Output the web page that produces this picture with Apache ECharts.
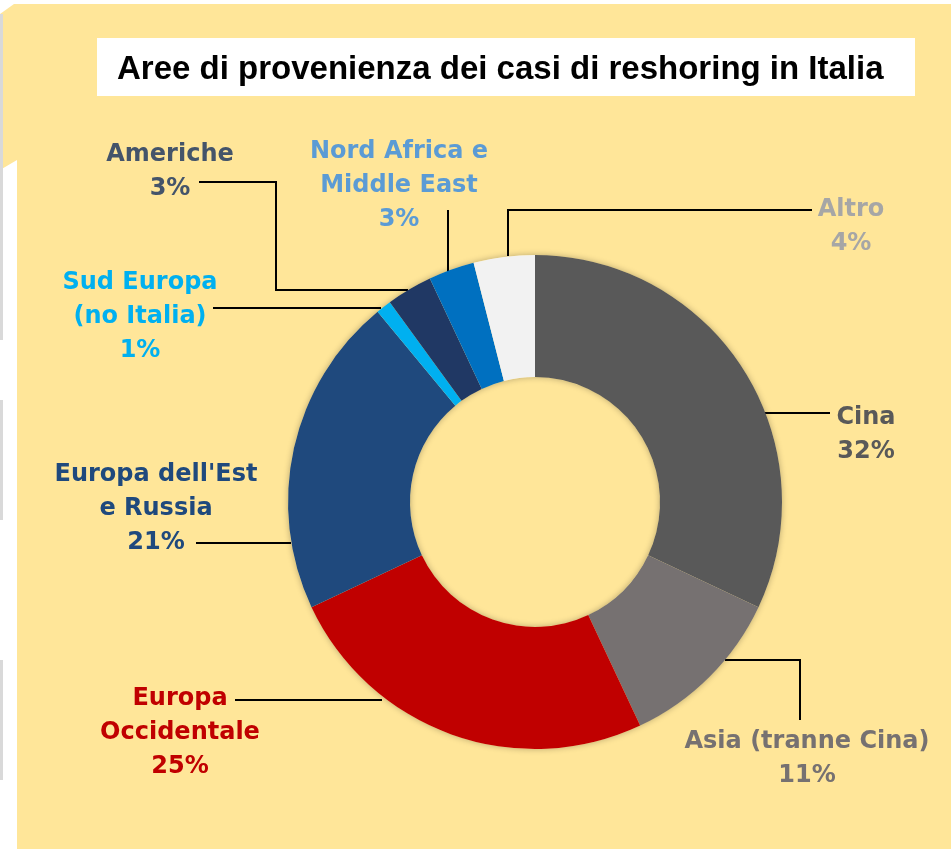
<!DOCTYPE html>
<html>
<head>
<meta charset="utf-8">
<script src="https://cdn.jsdelivr.net/npm/echarts@6/dist/echarts.min.js"></script>
<style>
  html, body { margin: 0; padding: 0; background: #ffffff; }
  #chart { width: 951px; height: 849px; }
</style>
</head>
<body>
<div id="chart"></div>
<script>
// dati (percentuali), in senso orario dalle ore 12
const categories = ['Cina', 'Asia (tranne Cina)', 'Europa\nOccidentale', "Europa dell'Est\ne Russia",
  'Sud Europa\n(no Italia)', 'Americhe', 'Nord Africa e\nMiddle East', 'Altro'];
const values = [32, 11, 25, 21, 1, 3, 3, 4];
const sliceColors = ['#595959', '#767171', '#C00000', '#1F497D', '#00B0F0', '#203864', '#0070C0', '#F2F2F2'];
const labelColors = ['#595959', '#767171', '#C00000', '#1F497D', '#00B0F0', '#44546A', '#5B9BD5', '#A6A6A6'];

// posizione etichette e linee guida
const labelPos = [[866, 435], [807, 759], [180, 733], [156, 509], [140, 317], [170, 172], [399, 186], [851, 227]];
const guideLines = [
  [[762, 413], [796, 413], [830, 413]],
  [[725, 660], [800, 660], [800, 720]],
  [[382, 700], [310, 700], [235, 700]],
  [[291, 543], [240, 543], [196, 543]],
  [[381, 308], [300, 308], [213, 308]],
  [[408, 290], [276, 290], [276, 182], [199, 182]],
  [[448, 272], [448, 240], [448, 210]],
  [[508, 256], [508, 210], [812, 210]]
];

const FONT = '"DejaVu Sans", sans-serif';

let myChart = echarts.init(document.getElementById('chart'));

const option = {
  backgroundColor: '#ffffff',
  animation: false,
  title: {
    text: 'Aree di provenienza dei casi di reshoring in Italia',
    left: 117,
    top: 53,
    padding: 0,
    textStyle: { color: '#000', fontSize: 33, fontWeight: 'bold', fontFamily: '"Liberation Sans", Arial, sans-serif' }
  },
  graphic: [
    // sfondo giallo
    { type: 'rect', shape: { x: 17, y: 4, width: 934, height: 845 }, style: { fill: '#FFE699' } },
    { type: 'polygon', shape: { points: [[0, 14], [14, 4], [17, 4], [17, 160], [0, 170]] }, style: { fill: '#FFE699' } },
    { type: 'rect', shape: { x: 0, y: 14, width: 3, height: 326 }, style: { fill: '#d9d9d9' } },
    { type: 'rect', shape: { x: 0, y: 400, width: 3, height: 120 }, style: { fill: '#d9d9d9' } },
    { type: 'rect', shape: { x: 0, y: 660, width: 3, height: 120 }, style: { fill: '#d9d9d9' } },
    // riquadro titolo
    { type: 'rect', shape: { x: 97, y: 38, width: 818, height: 58 }, style: { fill: '#ffffff' } }
  ],
  series: [
    {
      // ombra dietro la ciambella
      type: 'pie',
      silent: true,
      center: [535, 502],
      radius: [125, 247],
      z: 1,
      label: { show: false },
      labelLine: { show: false },
      itemStyle: { color: '#FFE699', shadowBlur: 6, shadowColor: 'rgba(0,0,0,0.28)' },
      data: [{ value: 1, name: '' }]
    },
    {
      type: 'pie',
      center: [535, 502],
      radius: [125, 247],
      startAngle: 90,
      clockwise: true,
      z: 2,
      avoidLabelOverlap: false,
      data: categories.map((c, i) => ({
        name: c,
        value: values[i],
        itemStyle: { color: sliceColors[i] },
        label: { color: labelColors[i] }
      })),
      label: {
        show: true,
        formatter: p => p.name + '\n' + p.value + '%',
        fontFamily: FONT,
        fontSize: 24,
        fontWeight: 'bold',
        lineHeight: 34,
        align: 'center'
      },
      labelLine: {
        show: true,
        smooth: false,
        lineStyle: { color: '#000', width: 2 }
      },
      labelLayout: function (params) {
        const i = params.dataIndex;
        return {
          x: labelPos[i][0],
          y: labelPos[i][1],
          align: 'center',
          verticalAlign: 'middle',
          labelLinePoints: guideLines[i]
        };
      }
    }
  ]
};

myChart.setOption(option);
</script>
</body>
</html>
